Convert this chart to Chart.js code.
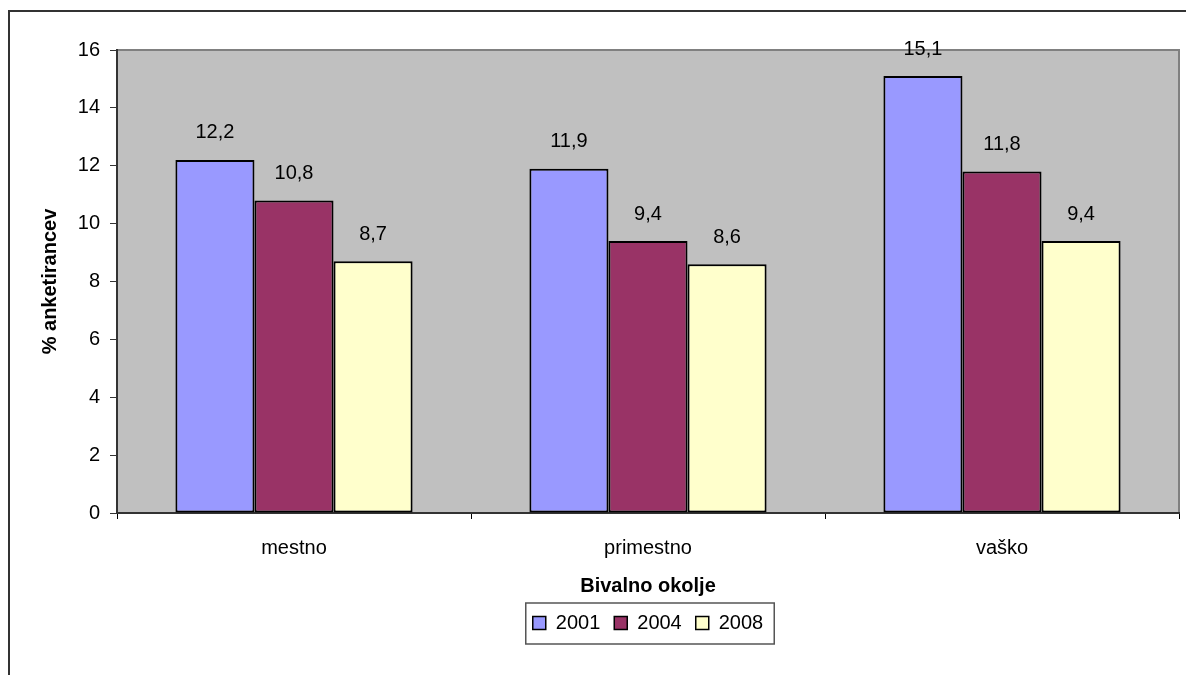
<!DOCTYPE html>
<html>
<head>
<meta charset="utf-8">
<script src="https://cdn.jsdelivr.net/npm/chart.js@4"></script>
<style>
  html, body { margin: 0; padding: 0; background: #fff; overflow: hidden; }
  #frame { position: absolute; left: 8px; top: 10px; width: 1400px; height: 900px; border-left: 2px solid #333; border-top: 2px solid #333; }
  #wrap { position: absolute; left: 0; top: 0; width: 1186px; height: 675px; }
</style>
</head>
<body>
<div id="frame"></div>
<div id="wrap"><canvas id="chart" width="1186" height="675"></canvas></div>
<script>
// --- data ---
const categories = ['mestno', 'primestno', 'vaško'];
const years = ['2001', '2004', '2008'];
const values2001 = [12.2, 11.9, 15.1];
const values2004 = [10.8, 9.4, 11.8];
const values2008 = [8.7, 8.6, 9.4];
const yTicks = [0, 2, 4, 6, 8, 10, 12, 14, 16];

const barColors = ['#9999FF', '#993366', '#FFFFCC'];
const FONT = '"Liberation Sans", Arial, sans-serif';

Chart.defaults.font.family = FONT;
Chart.defaults.font.size = 20;
Chart.defaults.color = '#000';

// gray plot background + top/right border
const plotBg = {
  id: 'plotBg',
  beforeDraw(chart) {
    const { ctx, chartArea: a } = chart;
    ctx.save();
    ctx.fillStyle = '#C0C0C0';
    ctx.fillRect(a.left, a.top, a.right - a.left, a.bottom - a.top);
    ctx.strokeStyle = '#808080';
    ctx.lineWidth = 2;
    ctx.beginPath();
    ctx.moveTo(a.left, a.top);
    ctx.lineTo(a.right, a.top);
    ctx.lineTo(a.right, a.bottom);
    ctx.stroke();
    ctx.restore();
  }
};

// value labels above the bars
const valueLabels = {
  id: 'valueLabels',
  afterDatasetsDraw(chart) {
    const { ctx } = chart;
    ctx.save();
    ctx.font = '20px ' + FONT;
    ctx.fillStyle = '#000';
    ctx.textAlign = 'center';
    ctx.textBaseline = 'middle';
    chart.data.datasets.forEach((ds, i) => {
      chart.getDatasetMeta(i).data.forEach((bar, j) => {
        const txt = ds.data[j].toFixed(1).replace('.', ',');
        ctx.fillText(txt, bar.x, bar.y - 27);
      });
    });
    ctx.restore();
  }
};

// box round the legend
const legendBox = {
  id: 'legendBox',
  afterDraw(chart) {
    const hb = chart.legend.legendHitBoxes;
    if (!hb || !hb.length) return;
    const { ctx } = chart;
    const last = hb[hb.length - 1];
    const left = hb[0].left - 7;
    const right = last.left + last.width + 11;
    const top = hb[0].top - 10;
    const bottom = hb[0].top + hb[0].height + 11;
    ctx.save();
    ctx.strokeStyle = '#555';
    ctx.lineWidth = 1.5;
    ctx.strokeRect(left, top, right - left, bottom - top);
    ctx.restore();
  }
};

new Chart(document.getElementById('chart'), {
  type: 'bar',
  data: {
    labels: categories,
    datasets: [
      { label: years[0], data: values2001, backgroundColor: barColors[0] },
      { label: years[1], data: values2004, backgroundColor: barColors[1] },
      { label: years[2], data: values2008, backgroundColor: barColors[2] }
    ].map(d => Object.assign(d, {
      borderColor: '#000',
      borderWidth: 2,
      borderSkipped: false,
      categoryPercentage: 0.67,
      barPercentage: 1.0
    }))
  },
  options: {
    responsive: false,
    animation: false,
    layout: { padding: { top: 50, right: 7, left: 0, bottom: 32 } },
    plugins: {
      tooltip: { enabled: false },
      legend: {
        position: 'bottom',
        fullSize: false,
        labels: {
          boxWidth: 13,
          boxHeight: 13,
          padding: 14,
          color: '#000',
          font: { size: 20 },
          generateLabels(chart) {
            return chart.data.datasets.map((ds, i) => ({
              text: ds.label,
              fillStyle: ds.backgroundColor,
              strokeStyle: '#000',
              lineWidth: 1.5,
              datasetIndex: i
            }));
          }
        }
      }
    },
    scales: {
      x: {
        afterFit(scale) { scale.height = 86; },
        grid: { display: true, offset: true, drawOnChartArea: false, tickLength: 6, color: '#000', lineWidth: 1 },
        border: { display: true, color: '#333', width: 2 },
        ticks: { padding: 17, color: '#000', font: { size: 20 } },
        title: { display: true, text: 'Bivalno okolje', color: '#000', font: { size: 20, weight: 'bold' }, padding: { top: 0, bottom: 1 } }
      },
      y: {
        min: 0,
        max: 16,
        afterFit(scale) { scale.width = 117; },
        afterBuildTicks(scale) { scale.ticks = yTicks.map(v => ({ value: v })); },
        grid: { display: true, drawOnChartArea: false, tickLength: 7, color: '#333' },
        border: { display: true, color: '#333', width: 2 },
        ticks: { padding: 10, color: '#000', font: { size: 20 } },
        title: { display: true, text: '% anketirancev', color: '#000', font: { size: 20, weight: 'bold' }, padding: { top: 38, bottom: 0 } }
      }
    }
  },
  plugins: [plotBg, valueLabels, legendBox]
});
</script>
</body>
</html>
